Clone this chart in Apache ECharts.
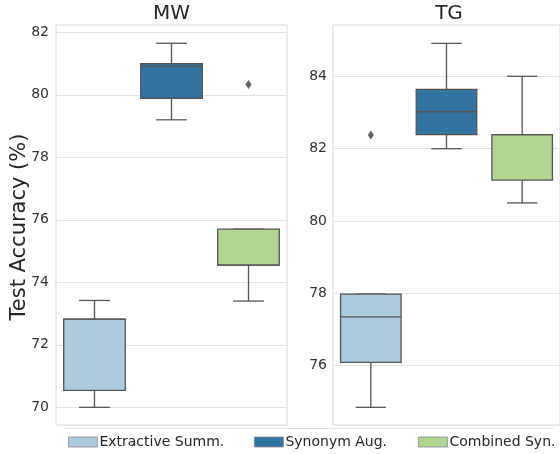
<!DOCTYPE html>
<html>
<head>
<meta charset="utf-8">
<script src="https://cdn.jsdelivr.net/npm/echarts@6/dist/echarts.min.js"></script>
<style>html,body{margin:0;padding:0;background:#fff}#c{width:560px;height:454px}</style>
</head>
<body>
<div id="c"></div>
<script>
const panels = ['MW', 'TG'];
const methods = ['Extractive Summ.', 'Synonym Aug.', 'Combined Syn.'];
const colors = ['#aecbdd', '#3274a1', '#b3d494'];
const yTitle = 'Test Accuracy (%)';
// [min, Q1, median, Q3, max] per method
const mwStats = [
  [70.0, 70.54, 72.82, 72.82, 73.42],
  [79.2, 79.89, 80.91, 81.0, 81.65],
  [73.4, 74.55, 74.55, 75.7, 75.7]
];
const tgStats = [
  [74.85, 76.09, 77.35, 77.98, 77.98],
  [82.0, 82.39, 83.02, 83.64, 84.91],
  [80.5, 81.13, 82.39, 82.39, 84.0]
];
// outliers: [method index, value]
const mwOutliers = [[2, 80.33]];
const tgOutliers = [[0, 82.38]];
const mwTicks = [70, 72, 74, 76, 78, 80, 82];
const tgTicks = [76, 78, 80, 82, 84];
const mwRange = [69.434, 82.234];
const tgRange = [74.361, 85.418];

const statsByPanel = [mwStats, tgStats];
const outliersByPanel = [mwOutliers, tgOutliers];
const ticksByPanel = [mwTicks, tgTicks];
const rangeByPanel = [mwRange, tgRange];

const LINE = '#555555';

function renderBox(params, api) {
  const x = api.value(0);
  const pMin = api.coord([x, api.value(1)]);
  const pQ1 = api.coord([x, api.value(2)]);
  const pMed = api.coord([x, api.value(3)]);
  const pQ3 = api.coord([x, api.value(4)]);
  const pMax = api.coord([x, api.value(5)]);
  const band = api.size([1, 0])[0];
  const bw = band * 0.8;
  const cx = pMin[0];
  const ls = { stroke: LINE, lineWidth: 1.3 };
  const children = [
    { type: 'line', shape: { x1: cx, y1: pQ3[1], x2: cx, y2: pMax[1] }, style: ls },
    { type: 'line', shape: { x1: cx, y1: pQ1[1], x2: cx, y2: pMin[1] }, style: ls },
    { type: 'line', shape: { x1: cx - bw / 4, y1: pMax[1], x2: cx + bw / 4, y2: pMax[1] }, style: ls },
    { type: 'line', shape: { x1: cx - bw / 4, y1: pMin[1], x2: cx + bw / 4, y2: pMin[1] }, style: ls },
    { type: 'rect', shape: { x: cx - bw / 2, y: pQ3[1], width: bw, height: pQ1[1] - pQ3[1] },
      style: { fill: api.visual('color'), stroke: LINE, lineWidth: 1.3 } },
    { type: 'line', shape: { x1: cx - bw / 2, y1: pMed[1], x2: cx + bw / 2, y2: pMed[1] }, style: ls }
  ];
  return { type: 'group', children: children };
}

const grids = [
  { left: 56, top: 25, width: 231, height: 400 },
  { left: 333, top: 25, width: 232, height: 400 }
];

const xAxes = panels.map((p, i) => ({
  type: 'category', gridIndex: i, data: methods,
  axisLine: { show: false }, axisTick: { show: false }, axisLabel: { show: false },
  splitLine: { show: false }
}));

const yAxes = panels.map((p, i) => ({
  type: 'value', gridIndex: i,
  min: rangeByPanel[i][0], max: rangeByPanel[i][1],
  axisLine: { show: false },
  axisTick: { show: false, customValues: ticksByPanel[i] },
  axisLabel: { customValues: ticksByPanel[i], fontSize: 14, color: '#333', margin: i === 0 ? 7 : 6, fontFamily: 'DejaVu Sans' },
  splitLine: { show: true, lineStyle: { color: '#e3e3e3', width: 1 } }
}));

const series = [];
panels.forEach((p, pi) => {
  methods.forEach((m, mi) => {
    series.push({
      type: 'custom', name: m, xAxisIndex: pi, yAxisIndex: pi,
      itemStyle: { color: colors[mi] },
      renderItem: renderBox,
      encode: { x: 0, y: [1, 2, 3, 4, 5] },
      data: [[mi].concat(statsByPanel[pi][mi])],
      silent: true, animation: false
    });
  });
  series.push({
    type: 'scatter', name: 'outliers-' + p, xAxisIndex: pi, yAxisIndex: pi,
    symbol: 'diamond', symbolSize: [6, 9],
    itemStyle: { color: '#3a3a3a' },
    data: outliersByPanel[pi], silent: true, animation: false
  });
});

const legendLefts = [68, 254, 418];
const legends = methods.map((m, i) => ({
  data: [m], left: legendLefts[i], top: 435, icon: 'rect',
  itemWidth: 29, itemHeight: 10, itemGap: 0, padding: 0,
  selectedMode: false,
  itemStyle: { borderColor: '#8a8a8a', borderWidth: 0.8 },
  textStyle: { fontSize: 14, color: '#262626', fontFamily: 'DejaVu Sans', padding: [0, 0, 0, -3] }
}));

const chart = echarts.init(document.getElementById('c'), null, { renderer: 'canvas' });
chart.setOption({
  animation: false,
  backgroundColor: '#fff',
  title: panels.map((p, i) => ({
    text: p, left: i === 0 ? 171.5 : 449, top: 4, textAlign: 'center', padding: 0,
    textStyle: { fontSize: 20, fontWeight: 'normal', color: '#262626', fontFamily: 'DejaVu Sans' }
  })),
  grid: grids.map(g => Object.assign({ show: true, borderColor: '#d8d8d8', borderWidth: 1, backgroundColor: 'transparent' }, g)),
  xAxis: xAxes,
  yAxis: yAxes,
  legend: legends,
  series: series,
  graphic: [{
    type: 'line', shape: { x1: 65, y1: 428.5, x2: 553, y2: 428.5 },
    style: { stroke: '#e2e2e2', lineWidth: 1 }, silent: true
  }, {
    type: 'text', x: 19.5, y: 227, rotation: Math.PI / 2, silent: true,
    style: { text: yTitle, fontSize: 21, fill: '#262626', fontFamily: 'DejaVu Sans', align: 'center', verticalAlign: 'middle' }
  }]
});
</script>
</body>
</html>
